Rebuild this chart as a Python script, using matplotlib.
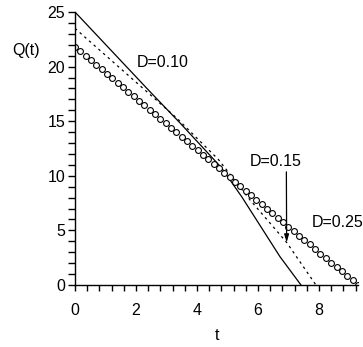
import matplotlib
matplotlib.use("Agg")
import matplotlib.pyplot as plt
from matplotlib.ticker import MultipleLocator

plt.rcParams['font.family'] = ['Liberation Sans', 'DejaVu Sans']

# D = 0.10 (solid line)
t_solid = [0.0, 2.46, 3.44, 4.8, 5.47, 6.72, 7.41]
q_solid = [25.0, 17.7, 14.85, 10.75, 8.07, 2.6, 0.0]

# D = 0.15 (dashed line)
t_dash = [0.0, 3.33, 4.7, 5.74, 6.94, 7.9]
q_dash = [23.5, 15.3, 11.5, 7.79, 3.9, 0.0]

# D = 0.25 (circles)
t_circ = [0.0, 0.175, 0.35, 0.525, 0.70, 0.875, 1.05, 1.225, 1.40, 1.575,
          1.75, 1.925, 2.10, 2.275, 2.45, 2.625, 2.80, 2.975, 3.15, 3.325,
          3.50, 3.675, 3.85, 4.025, 4.20, 4.375, 4.55, 4.725, 4.90, 5.075,
          5.25, 5.425, 5.60, 5.775, 5.95, 6.125, 6.30, 6.475, 6.65, 6.825,
          7.00, 7.175, 7.35, 7.525, 7.70, 7.875, 8.05, 8.225, 8.40, 8.575,
          8.75, 8.925, 9.10, 9.275]
q_circ = [21.80, 21.39, 20.98, 20.57, 20.16, 19.74, 19.33, 18.92, 18.51, 18.10,
          17.69, 17.28, 16.87, 16.45, 16.04, 15.63, 15.22, 14.81, 14.40, 13.99,
          13.58, 13.16, 12.75, 12.34, 11.93, 11.52, 11.11, 10.70, 10.29, 9.87,
          9.46, 9.05, 8.64, 8.23, 7.82, 7.41, 7.00, 6.58, 6.17, 5.76,
          5.35, 4.94, 4.53, 4.12, 3.71, 3.29, 2.88, 2.47, 2.06, 1.65,
          1.24, 0.83, 0.42, 0.00]

labels = ["D=0.10", "D=0.15", "D=0.25"]

fig = plt.figure(figsize=(3.63, 3.47), dpi=100)
ax = fig.add_axes([75/363, 1-285/347, 283/363, 273/347])

ax.plot(t_solid, q_solid, color='black', lw=0.9)
ax.plot(t_dash, q_dash, color='black', lw=0.9, linestyle=(0, (2, 3)))
ax.plot(t_circ, q_circ, linestyle='none', marker='o', markersize=4.2,
        markerfacecolor='white', markeredgecolor='black', markeredgewidth=0.8)

ax.set_xlim(0, 9.28)
ax.set_ylim(0, 25)
for s in ['top', 'right']:
    ax.spines[s].set_visible(False)
for s in ['left', 'bottom']:
    ax.spines[s].set_linewidth(1.0)

ax.xaxis.set_major_locator(MultipleLocator(2))
ax.xaxis.set_minor_locator(MultipleLocator(0.4))
ax.yaxis.set_major_locator(MultipleLocator(5))
ax.yaxis.set_minor_locator(MultipleLocator(1))
ax.tick_params(axis='x', which='both', direction='out', length=4, width=1,
               labelsize=11.5, pad=9)
ax.tick_params(axis='y', which='both', direction='out', length=5, width=1,
               labelsize=11.5, pad=2)

ax.text(2.03, 20.4, labels[0], fontsize=11.5, va='center', ha='left')
ax.annotate(labels[1], xy=(6.94, 3.9), xytext=(5.74, 11.3),
            fontsize=11.5, va='center', ha='left',
            arrowprops=dict(arrowstyle='-|>,head_length=0.4,head_width=0.12',
                            color='black', lw=0.9, shrinkA=0, shrinkB=0,
                            relpos=(0.7, 0.0)))
ax.text(7.76, 5.7, labels[2], fontsize=11.5, va='center', ha='left', clip_on=False)

fig.text(26/363, 1-50/347, "Q(t)", fontsize=11.5, ha='center', va='center')
fig.text(217/363, 1-336/347, "t", fontsize=11.5, ha='center', va='center')

fig.savefig("out.png", dpi=100)
